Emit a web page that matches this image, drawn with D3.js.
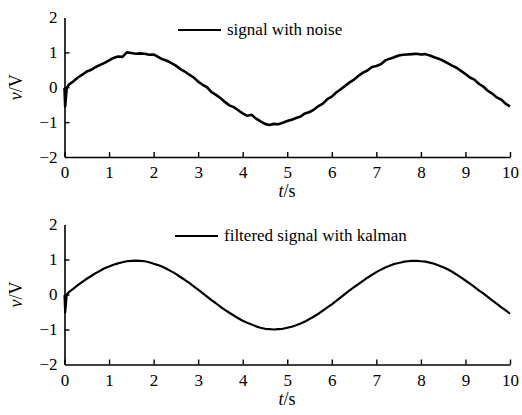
<!DOCTYPE html>
<html>
<head>
<meta charset="UTF-8">
<script src="https://d3js.org/d3.v7.min.js"></script>
<style>
    body { margin: 0; background: #fff; font-family: "Liberation Serif", serif; }
    #chart text { font-family: "Liberation Serif", serif; }
</style>
</head>
<body>
<svg id="chart" width="522" height="415" font-family="Liberation Serif"></svg>
<script>
const serif = "Liberation Serif";

// sample times
const tNoisy = [0, 0.015, 0.05, 0.1, 0.2, 0.3, 0.4, 0.5, 0.6, 0.7, 0.8, 0.9,
    1.0, 1.1, 1.2, 1.3, 1.4, 1.5, 1.6, 1.7, 1.8, 1.9,
    2.0, 2.1, 2.2, 2.3, 2.4, 2.5, 2.6, 2.7, 2.8, 2.9,
    3.0, 3.1, 3.2, 3.3, 3.4, 3.5, 3.6, 3.7, 3.8, 3.9,
    4.0, 4.1, 4.2, 4.3, 4.4, 4.5, 4.6, 4.7, 4.8, 4.9,
    5.0, 5.1, 5.2, 5.3, 5.4, 5.5, 5.6, 5.7, 5.8, 5.9,
    6.0, 6.1, 6.2, 6.3, 6.4, 6.5, 6.6, 6.7, 6.8, 6.9,
    7.0, 7.1, 7.2, 7.3, 7.4, 7.5, 7.6, 7.7, 7.8, 7.9,
    8.0, 8.1, 8.2, 8.3, 8.4, 8.5, 8.6, 8.7, 8.8, 8.9,
    9.0, 9.1, 9.2, 9.3, 9.4, 9.5, 9.6, 9.7, 9.8, 9.9, 10.0];

// signal with noise
const vNoisy = [-0.02, -0.55, -0.02, 0.08, 0.17, 0.28, 0.36, 0.45, 0.50, 0.58, 0.64, 0.70,
    0.77, 0.84, 0.88, 0.87, 1.00, 0.98, 0.96, 0.97, 0.96, 0.93,
    0.94, 0.87, 0.80, 0.76, 0.69, 0.62, 0.52, 0.45, 0.36, 0.28,
    0.16, 0.07, 0.00, -0.14, -0.22, -0.31, -0.42, -0.52, -0.57, -0.66,
    -0.75, -0.82, -0.79, -0.90, -0.98, -1.05, -1.08, -1.05, -1.06, -1.02,
    -0.97, -0.93, -0.88, -0.84, -0.75, -0.71, -0.64, -0.54, -0.47, -0.34,
    -0.27, -0.15, -0.06, 0.04, 0.14, 0.22, 0.33, 0.42, 0.48, 0.58,
    0.61, 0.66, 0.77, 0.82, 0.86, 0.91, 0.93, 0.94, 0.95, 0.96,
    0.94, 0.95, 0.91, 0.86, 0.82, 0.76, 0.69, 0.62, 0.56, 0.47,
    0.38, 0.28, 0.22, 0.10, 0.02, -0.10, -0.18, -0.29, -0.35, -0.47, -0.55];

// kalman filtered signal (bottom panel)
const vFiltered = [-0.02, -0.52, 0.00, 0.07, 0.17, 0.27, 0.36, 0.45, 0.53, 0.61, 0.68, 0.75,
    0.80, 0.85, 0.89, 0.92, 0.95, 0.96, 0.97, 0.96, 0.95, 0.92,
    0.88, 0.84, 0.79, 0.73, 0.66, 0.59, 0.50, 0.42, 0.33, 0.23,
    0.14, 0.04, -0.06, -0.16, -0.25, -0.35, -0.44, -0.52, -0.60, -0.68,
    -0.75, -0.81, -0.86, -0.91, -0.95, -0.98, -0.99, -1.00, -0.99, -0.98,
    -0.95, -0.92, -0.88, -0.83, -0.77, -0.70, -0.63, -0.55, -0.46, -0.37,
    -0.28, -0.18, -0.08, 0.02, 0.12, 0.21, 0.30, 0.39, 0.48, 0.56,
    0.64, 0.71, 0.77, 0.82, 0.87, 0.90, 0.93, 0.95, 0.96, 0.96,
    0.95, 0.94, 0.91, 0.88, 0.83, 0.78, 0.72, 0.65, 0.57, 0.49,
    0.40, 0.31, 0.22, 0.12, 0.03, -0.07, -0.17, -0.26, -0.36, -0.45, -0.55];

const xTicks = [0, 1, 2, 3, 4, 5, 6, 7, 8, 9, 10];
const yTicks = [-2, -1, 0, 1, 2];

const svg = d3.select("#chart");

const x = d3.scaleLinear().domain([0, 10]).range([64.5, 510]);

function panel(top, bottom, values, legendText, legendX, legendY, lineW) {
    const y = d3.scaleLinear().domain([-2, 2]).range([bottom, top]);
    const g = svg.append("g");

    // x axis, ticks inward
    const xAxis = g.append("g")
        .attr("transform", `translate(0,${bottom})`)
        .call(d3.axisBottom(x).tickValues(xTicks).tickSizeInner(-5).tickSizeOuter(0).tickPadding(9));
    xAxis.attr("font-family", serif).attr("font-size", 17);
    xAxis.select(".domain").attr("stroke-width", 1.6);
    xAxis.selectAll(".tick line").attr("stroke-width", 1.4);

    // y axis
    const yAxis = g.append("g")
        .attr("transform", `translate(${x(0)},0)`)
        .call(d3.axisLeft(y).tickValues(yTicks).tickSizeInner(-5).tickSizeOuter(0).tickPadding(7)
            .tickFormat(d => d < 0 ? "\u2212" + Math.abs(d) : d));
    yAxis.attr("font-family", serif).attr("font-size", 17);
    yAxis.select(".domain").attr("stroke-width", 1.6);
    yAxis.selectAll(".tick line").attr("stroke-width", 1.4);
    yAxis.selectAll(".tick line").filter(d => d === 2 || d === -2).remove();

    const line = d3.line()
        .x((d, i) => x(tNoisy[i]))
        .y(d => y(d));

    g.append("path")
        .datum(values)
        .attr("fill", "none")
        .attr("stroke", "#000")
        .attr("stroke-width", lineW)
        .attr("stroke-linejoin", "round")
        .attr("d", line);

    // legend
    g.append("line")
        .attr("x1", legendX).attr("x2", legendX + 43)
        .attr("y1", legendY).attr("y2", legendY)
        .attr("stroke", "#000").attr("stroke-width", 2);
    g.append("text")
        .attr("x", legendX + 49).attr("y", legendY + 5)
        .attr("font-size", 17)
        .text(legendText);

    // axis titles
    const xt = g.append("text")
        .attr("x", 287).attr("y", bottom + 40)
        .attr("text-anchor", "middle")
        .attr("font-size", 18);
    xt.append("tspan").attr("font-style", "italic").text("t");
    xt.append("tspan").text("/s");

    const yt = g.append("text")
        .attr("transform", `translate(22,${(top + bottom) / 2}) rotate(-90)`)
        .attr("text-anchor", "middle")
        .attr("font-size", 18);
    yt.append("tspan").attr("font-style", "italic").text("v");
    yt.append("tspan").text("/V");
}

panel(17.5, 157, vNoisy, "signal with noise", 178, 30, 2.6);
panel(224.5, 364.5, vFiltered, "filtered signal with kalman", 175, 236, 2.2);

// put the family on every text node itself
svg.selectAll("text").attr("font-family", serif).attr("fill", "#000");
</script>
</body>
</html>
